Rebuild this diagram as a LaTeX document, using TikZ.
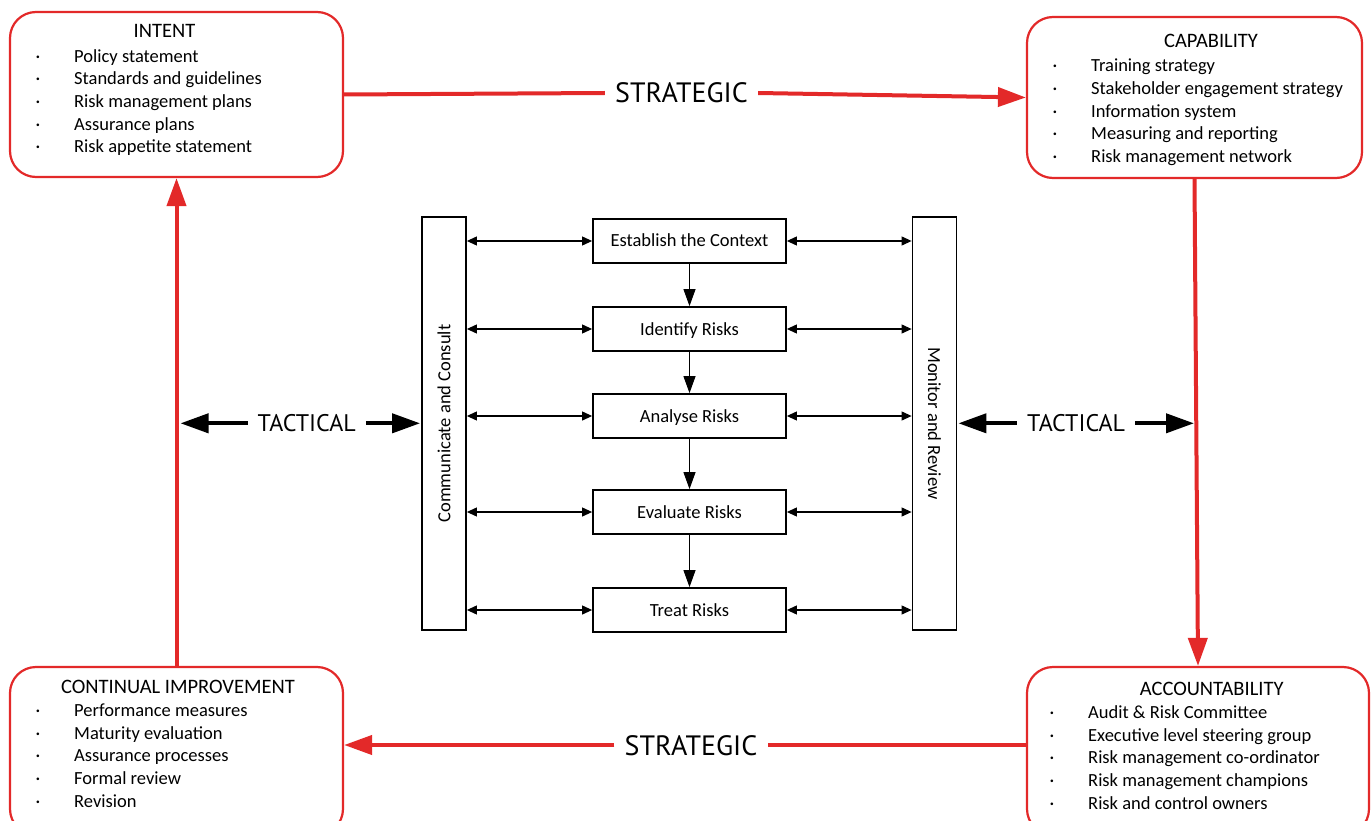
\documentclass[tikz,border=0pt]{standalone}
\usepackage{fontspec}
\setmainfont{Carlito}
\newfontfamily\labfont{PT Sans}
\usetikzlibrary{arrows.meta}
\definecolor{rred}{HTML}{E32929}
\begin{document}
\begin{tikzpicture}[x=1pt,y=-1pt,
  rbox/.style={draw=rred, line width=2.2pt, rounded corners=26pt, inner sep=0pt},
  item/.style={anchor=base west, inner sep=0pt, font=\fontsize{18.5}{22}\selectfont},
  bul/.style={anchor=base, inner sep=0pt, font=\fontsize{18.5}{22}\selectfont},
  ttl/.style={anchor=base, inner sep=0pt, font=\fontsize{20.5}{24}\selectfont},
  proc/.style={draw, line width=1.8pt, minimum width=193pt, minimum height=44pt, inner sep=0pt,
    font=\fontsize{18.5}{22}\selectfont, text height=12.5pt, text depth=0.5pt},
  bar/.style={draw, line width=1.8pt, minimum width=44pt, minimum height=413pt, inner sep=0pt},
  bartxt/.style={inner sep=0pt, font=\fontsize{18.5}{22}\selectfont},
  strat/.style={font=\labfont\fontsize{28}{32}\selectfont, inner xsep=10pt, inner ysep=0pt, text height=20pt, text depth=0pt},
  tact/.style={font=\labfont\fontsize{24}{28}\selectfont, inner xsep=10pt, inner ysep=0pt, text height=16.7pt, text depth=0pt},
  redarr/.style={draw=rred, line width=4pt, -{Triangle[length=28pt,width=19pt]}},
  redline/.style={draw=rred, line width=4pt},
  blkarr/.style={draw=black, line width=4pt, -{Triangle[length=28pt,width=19pt]}},
  dbl/.style={draw, line width=1.1pt, {Triangle[length=10pt,width=9pt]}-{Triangle[length=10pt,width=9pt]}},
  down/.style={draw, line width=1.1pt, -{Triangle[length=17pt,width=12pt]}}
]
\useasboundingbox (0,0) rectangle (1371,821);
\clip (0,0) rectangle (1371,821);
\fill[white] (0,0) rectangle (1371,821);

% corner boxes
\node[rbox, minimum width=333pt, minimum height=165pt] (intent) at (176.5,94.5) {};
\node[rbox, minimum width=335pt, minimum height=161pt] (capab) at (1194.5,97.5) {};
\node[rbox, minimum width=333pt, minimum height=168pt] (improve) at (176.5,751) {};
\node[rbox, minimum width=342pt, minimum height=168pt] (account) at (1198,751) {};

% INTENT text
\node[ttl] (t1) at (164.5,38) {INTENT};
\foreach \y/\t [count=\i] in {63/Policy statement, 85/Standards and guidelines, 108/Risk management plans, 131/Assurance plans, 153/Risk appetite statement}{
  \node[bul] (ib\i) at (38,\y) {·};
  \node[item] (it\i) at (74,\y) {\t};
}
% CAPABILITY text
\node[ttl] (t2) at (1211,48) {CAPABILITY};
\foreach \y/\t [count=\i] in {72/Training strategy, 95/Stakeholder engagement strategy, 118/Information system, 140/Measuring and reporting, 163/Risk management network}{
  \node[bul] (cb\i) at (1055,\y) {·};
  \node[item] (ct\i) at (1091,\y) {\t};
}
% CONTINUAL IMPROVEMENT text
\node[ttl] (t3) at (178,693) {CONTINUAL IMPROVEMENT};
\foreach \y/\t [count=\i] in {716/Performance measures, 739/Maturity evaluation, 761/Assurance processes, 784/Formal review, 807/Revision}{
  \node[bul] (pb\i) at (38,\y) {·};
  \node[item] (pt\i) at (74,\y) {\t};
}
% ACCOUNTABILITY text
\node[ttl] (t4) at (1211.7,695) {ACCOUNTABILITY};
\foreach \y/\t [count=\i] in {718/Audit \& Risk Committee, 741/Executive level steering group, 763/Risk management co-ordinator, 786/Risk management champions, 809/Risk and control owners}{
  \node[bul] (ab\i) at (1052,\y) {·};
  \node[item] (at\i) at (1088,\y) {\t};
}

% strategic labels and red connectors
\node[strat] (strat1) at (681.5,93) {STRATEGIC};
\node[strat] (strat2) at (691,745) {STRATEGIC};
\draw[redline] (intent.east) -- (strat1.west);
\draw[redarr] (strat1.east) -- (capab.west);
\draw[redarr] (capab.south) -- (account.north);
\draw[redline] (strat2.east -| account.west) -- (strat2.east);
\draw[redarr] (strat2.west) -- (strat2.west -| improve.east);
\draw[redarr] (improve.north) -- (intent.south);

% central bars
\node[bar] (comm) at (444,423.5) {};
\node[bar] (mon) at (934.5,423.5) {};
\node[bartxt, rotate=90] (commt) at (comm) {Communicate and Consult};
\node[bartxt, rotate=-90] (mont) at (mon) {Monitor and Review};

% process boxes
\node[proc] (est) at (689.5,241) {Establish the Context};
\node[proc] (ident) at (689.5,329) {Identify Risks};
\node[proc] (anal) at (689.5,416) {Analyse Risks};
\node[proc] (eval) at (689.5,512) {Evaluate Risks};
\node[proc] (treat) at (689.5,610) {Treat Risks};

\foreach \n in {est,ident,anal,eval,treat}{
  \draw[dbl] (comm.east |- \n.west) -- (\n.west);
  \draw[dbl] (\n.east) -- (\n.east -| mon.west);
}
\draw[down] (est) -- (ident);
\draw[down] (ident) -- (anal);
\draw[down] (anal) -- (eval);
\draw[down] (eval) -- (treat);

% tactical
\node[tact] (tact1) at (306.7,423.3) {TACTICAL};
\node[tact] (tact2) at (1076,423.3) {TACTICAL};
\draw[blkarr, shorten >=4pt] (tact1.west) -- (tact1.west -| improve.north);
\draw[blkarr, shorten >=1pt] (tact1.east) -- (tact1.east -| comm.west);
\draw[blkarr, shorten >=1pt] (tact2.west) -- (tact2.west -| mon.east);
\draw[blkarr, shorten >=4pt] (tact2.east) -- (tact2.east -| account.north);
\end{tikzpicture}
\end{document}
